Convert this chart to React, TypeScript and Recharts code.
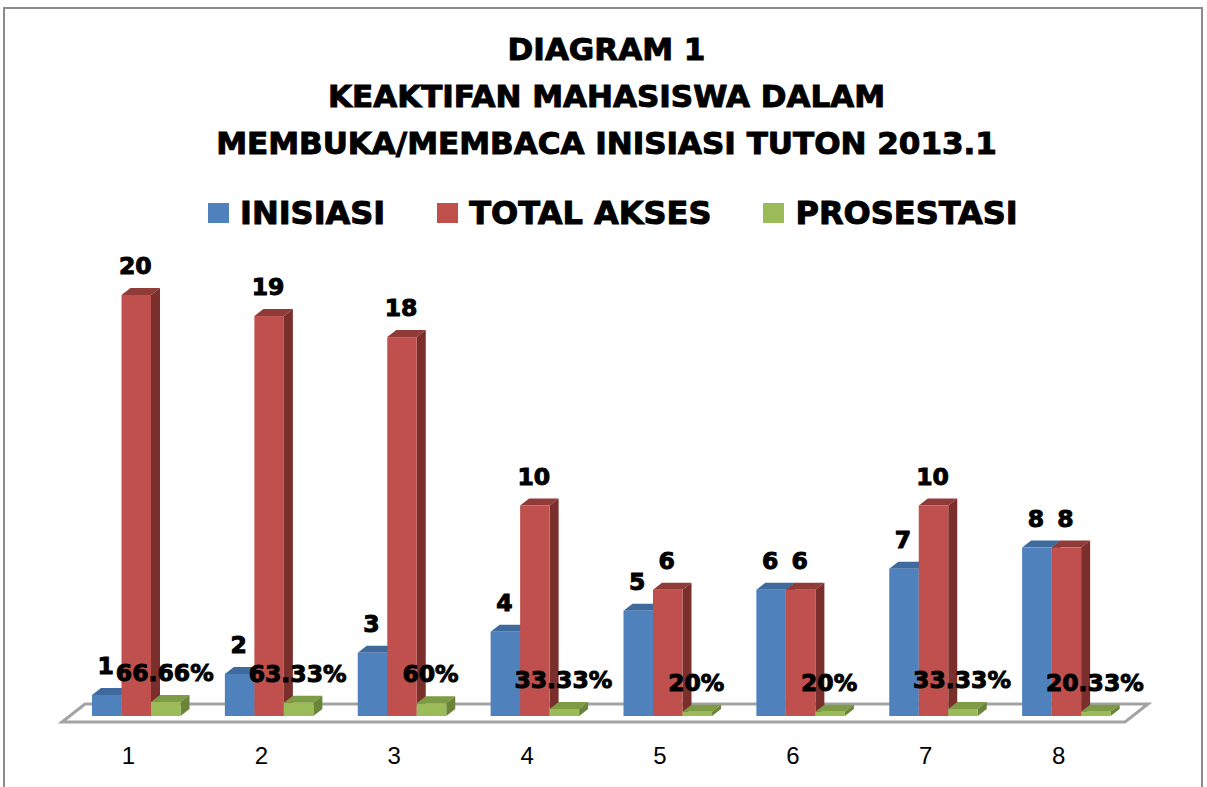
import { FC } from 'react';

import { Bar, BarChart, LabelList, ReferenceArea, XAxis, YAxis } from 'recharts';

const categories = ['1', '2', '3', '4', '5', '6', '7', '8'];
const inisiasi = [1, 2, 3, 4, 5, 6, 7, 8];
const totalAkses = [20, 19, 18, 10, 6, 6, 10, 8];
const prosestasi = [0.6666, 0.6333, 0.6, 0.3333, 0.2, 0.2, 0.3333, 0.2033];
const prosestasiLabels = ['66.66%', '63.33%', '60%', '33.33%', '20%', '20%', '33.33%', '20.33%'];

const titleLines = ['DIAGRAM 1', 'KEAKTIFAN MAHASISWA DALAM', 'MEMBUKA/MEMBACA INISIASI TUTON 2013.1'];

const series = [
  { key: 'inisiasi', name: 'INISIASI', front: '#4F81BD', top: '#3F6A9D', side: '#375C89' },
  { key: 'total', name: 'TOTAL AKSES', front: '#C0504D', top: '#913B38', side: '#7B2F2D' },
  { key: 'pros', name: 'PROSESTASI', front: '#9BBB59', top: '#7E9B45', side: '#6A8438' },
];

const data = categories.map((name, i) => ({
  name,
  inisiasi: inisiasi[i],
  total: totalAkses[i],
  pros: prosestasi[i],
}));

// 3d look
const OFF_X = 8;
const OFF_Y = 6;
const DEPTH_X = 9;
const DEPTH_Y = 7;

const boldFont = '"DejaVu Sans", sans-serif';

const makeShape = (front: string, top: string, side: string) => (props: any) => {
  const { x, y, width, height } = props;
  if (!height || height <= 0) return <g />;
  const X = x + OFF_X;
  const Y = y - OFF_Y;
  const w = width;
  const h = height;
  return (
    <g>
      <polygon
        points={`${X},${Y} ${X + DEPTH_X},${Y - DEPTH_Y} ${X + w + DEPTH_X},${Y - DEPTH_Y} ${X + w},${Y}`}
        fill={top}
      />
      <polygon
        points={`${X + w},${Y} ${X + w + DEPTH_X},${Y - DEPTH_Y} ${X + w + DEPTH_X},${Y + h - DEPTH_Y} ${X + w},${Y + h}`}
        fill={side}
      />
      <rect x={X} y={Y} width={w} height={h} fill={front} />
    </g>
  );
};

const makeLabel = (labels?: string[]) => (props: any) => {
  const { x, y, width, index, value } = props;
  const text = labels ? labels[index] : String(value);
  return (
    <text
      x={x + width / 2 + OFF_X - 1}
      y={y - OFF_Y - 21}
      textAnchor="middle"
      fontFamily={boldFont}
      fontWeight="bold"
      fontSize={23.5}
      fill="#000"
      stroke="#000"
      strokeWidth={1}
    >
      {text}
    </text>
  );
};

const Floor = (props: any) => {
  const { x, y, width, height } = props;
  const b = y + height;
  return (
    <polygon
      points={`${x},${b} ${x + width},${b} ${x + width + 23},${b - 18} ${x + 23},${b - 18}`}
      fill="#fff"
      stroke="#A3A3A3"
      strokeWidth={3}
    />
  );
};

const App: FC = () => {
  return (
    <div style={{ position: 'absolute', left: 0, top: 0, width: 1207, height: 787, overflow: 'hidden', background: '#fff' }}>
      <div
        style={{
          position: 'absolute',
          left: 3,
          top: 7,
          width: 1200,
          height: 820,
          border: '2px solid #8a8a8a',
          boxSizing: 'border-box',
        }}
      />
      <div
        style={{
          position: 'absolute',
          left: 3,
          top: 26,
          width: 1207,
          textAlign: 'center',
          fontFamily: boldFont,
          fontWeight: 'bold',
          fontSize: 31,
          lineHeight: '47px',
          color: '#000',
          WebkitTextStroke: '1px #000',
        }}
      >
        {titleLines.map(t => (
          <div key={t}>{t}</div>
        ))}
      </div>
      <div
        style={{
          position: 'absolute',
          left: 208,
          top: 197,
          display: 'flex',
          alignItems: 'center',
          fontFamily: boldFont,
          fontWeight: 'bold',
          fontSize: 32,
          lineHeight: '32px',
          WebkitTextStroke: '1px #000',
        }}
      >
        {series.map((s, i) => (
          <div key={s.key} style={{ display: 'flex', alignItems: 'center', marginRight: i < series.length - 1 ? 52 : 0 }}>
            <div style={{ width: 21, height: 20, background: s.front, marginRight: 11 }} />
            <span>{s.name}</span>
          </div>
        ))}
      </div>
      <div style={{ position: 'absolute', left: 0, top: 0 }}>
        <BarChart
          width={1207}
          height={787}
          data={data}
          margin={{ top: 301, right: 82, left: 62, bottom: 35 }}
          barGap={0}
          barSize={29.5}
        >
          <XAxis
            dataKey="name"
            axisLine={false}
            tickLine={false}
            tickSize={0}
            tickMargin={25}
            height={30}
            tick={{ fill: '#000', fontSize: 24, fontFamily: '"Liberation Sans", Arial, sans-serif' }}
          />
          <YAxis hide domain={[0, 20]} />
          <ReferenceArea ifOverflow="visible" shape={<Floor />} />
          {series.map((s, i) => (
            <Bar
              key={s.key}
              dataKey={s.key}
              name={s.name}
              fill={s.front}
              shape={makeShape(s.front, s.top, s.side)}
              isAnimationActive={false}
            >
              <LabelList dataKey={s.key} content={makeLabel(i === 2 ? prosestasiLabels : undefined)} />
            </Bar>
          ))}
        </BarChart>
      </div>
    </div>
  );
};

export default App;
